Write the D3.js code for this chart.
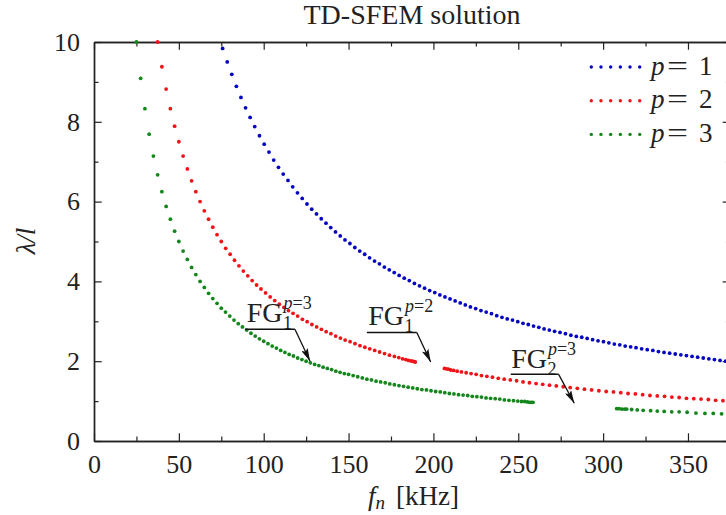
<!DOCTYPE html>
<html>
<head>
<meta charset="utf-8">
<script src="https://cdn.jsdelivr.net/npm/d3@7"></script>
<style>
body { margin: 0; background: #fff; }
svg { display: block; font-family: "Liberation Serif", "Times New Roman", Tinos, "DejaVu Serif", serif; }
</style>
</head>
<body>
<svg id="chart" width="726" height="515"></svg>
<script>
// values: f_n [kHz] and lambda/l for each marker
var blueF = [75.8, 78.5, 81.2, 83.9, 86.6, 89.3, 92.0, 94.7, 97.5, 100.3,
  103.1, 105.9, 108.7, 111.5, 114.3, 117.1, 119.9, 122.7, 125.5, 128.3,
  131.1, 133.9, 136.7, 139.5, 142.3, 145.1, 147.9, 150.8, 153.7, 156.6,
  159.5, 162.4, 165.3, 168.2, 171.1, 174.0, 176.9, 179.8, 182.8, 185.8,
  188.8, 191.8, 194.8, 197.8, 200.8, 203.8, 206.8, 209.8, 212.8, 215.8,
  218.8, 221.8, 224.9, 228.0, 231.1, 234.2, 237.3, 240.4, 243.5, 246.6,
  249.7, 252.8, 255.9, 259.0, 262.1, 265.2, 268.3, 271.4, 274.6, 277.8,
  281.0, 284.2, 287.4, 290.6, 293.8, 297.0, 300.2, 303.4, 306.6, 309.8,
  313.0, 316.2, 319.4, 322.7, 326.0, 329.3, 332.6, 335.9, 339.2, 342.5,
  345.8, 349.1, 352.4, 355.7, 359.0, 362.3, 365.6, 368.9, 372.2, 375.5];
var blueL = [9.84, 9.50, 9.19, 8.89, 8.61, 8.35, 8.11, 7.88, 7.65, 7.44,
  7.24, 7.04, 6.86, 6.69, 6.53, 6.37, 6.22, 6.08, 5.94, 5.81,
  5.69, 5.57, 5.46, 5.35, 5.24, 5.14, 5.04, 4.95, 4.85, 4.76,
  4.68, 4.59, 4.51, 4.44, 4.36, 4.29, 4.22, 4.15, 4.08, 4.02,
  3.95, 3.89, 3.83, 3.77, 3.72, 3.66, 3.61, 3.56, 3.51, 3.46,
  3.41, 3.36, 3.32, 3.27, 3.23, 3.19, 3.14, 3.10, 3.06, 3.03,
  2.99, 2.95, 2.92, 2.88, 2.85, 2.81, 2.78, 2.75, 2.72, 2.69,
  2.65, 2.62, 2.60, 2.57, 2.54, 2.51, 2.49, 2.46, 2.43, 2.41,
  2.38, 2.36, 2.34, 2.31, 2.29, 2.27, 2.24, 2.22, 2.20, 2.18,
  2.16, 2.14, 2.12, 2.10, 2.08, 2.06, 2.04, 2.02, 2.00, 1.99];

var redF1 = [37.5, 40.0, 42.5, 45.0, 47.5, 50.0, 52.5, 55.0, 57.5, 60.0,
  62.5, 65.0, 67.5, 70.0, 72.5, 75.0, 77.6, 80.2, 82.8, 85.4,
  88.0, 90.6, 93.2, 95.8, 98.4, 101.1, 103.8, 106.5, 109.2, 111.9,
  114.6, 117.3, 120.0, 122.8, 125.6, 128.4, 131.2, 134.0, 136.8, 139.6,
  142.4, 145.2, 148.0, 150.9, 153.8, 156.7, 159.6, 162.5, 165.4, 168.3,
  171.2, 174.1, 177.0, 179.6, 181.8, 183.7, 185.3, 186.6, 187.7, 188.6, 189.3];
var redL1 = [10.00, 9.38, 8.82, 8.33, 7.89, 7.50, 7.14, 6.82, 6.52, 6.25,
  6.00, 5.77, 5.56, 5.36, 5.17, 5.00, 4.83, 4.68, 4.53, 4.39,
  4.26, 4.14, 4.02, 3.91, 3.81, 3.71, 3.61, 3.52, 3.43, 3.35,
  3.27, 3.20, 3.13, 3.05, 2.99, 2.92, 2.86, 2.80, 2.74, 2.69,
  2.63, 2.58, 2.53, 2.49, 2.44, 2.39, 2.35, 2.31, 2.27, 2.23,
  2.19, 2.15, 2.12, 2.09, 2.06, 2.04, 2.02, 2.01, 2.00, 1.99, 1.98];
var redF2 = [206.5, 207.6, 208.8, 210.2, 211.9, 214.0, 216.5, 219.3, 222.2, 225.2,
  228.3, 231.5, 234.8, 238.2, 241.7, 245.3, 249.0, 252.8, 256.6, 260.5,
  264.4, 268.4, 272.4, 276.5, 280.6, 284.8, 289.0, 293.2, 297.5, 301.8,
  306.1, 310.4, 314.7, 319.0, 323.3, 327.6, 331.9, 336.2, 340.5, 344.8,
  349.1, 353.4, 357.7, 362.0, 366.3, 370.6, 374.9];
var redL2 = [1.82, 1.81, 1.80, 1.78, 1.77, 1.75, 1.73, 1.71, 1.69, 1.67,
  1.64, 1.62, 1.60, 1.57, 1.55, 1.53, 1.51, 1.48, 1.46, 1.44,
  1.42, 1.40, 1.38, 1.36, 1.34, 1.32, 1.30, 1.28, 1.26, 1.24,
  1.23, 1.21, 1.19, 1.18, 1.16, 1.14, 1.13, 1.12, 1.10, 1.09,
  1.07, 1.06, 1.05, 1.04, 1.02, 1.01, 1.00];

var greenF1 = [25.0, 27.5, 30.0, 32.5, 35.0, 37.5, 40.0, 42.5, 45.0, 47.5,
  50.0, 52.5, 55.0, 57.5, 60.0, 62.5, 65.0, 67.5, 70.0, 72.5,
  75.0, 77.5, 80.0, 82.5, 85.0, 87.5, 90.0, 92.5, 95.0, 97.5,
  100.0, 102.5, 105.0, 107.5, 110.0, 112.5, 115.0, 117.5, 120.0, 122.5,
  125.0, 127.5, 130.0, 132.5, 135.0, 137.5, 140.0, 142.5, 145.0, 147.5,
  150.0, 152.7, 155.4, 158.1, 160.8, 163.5, 166.2, 168.9, 171.6, 174.3,
  177.0, 179.7, 182.4, 185.1, 187.8, 190.5, 193.2, 195.9, 198.6, 201.3,
  204.0, 206.7, 209.4, 212.1, 214.8, 217.5, 220.2, 222.9, 225.6, 228.3,
  231.0, 233.7, 236.4, 239.1, 241.8, 244.5, 247.2, 249.7, 251.9, 253.8,
  255.4, 256.7, 257.8, 258.7];
var greenL1 = [10.00, 9.09, 8.33, 7.69, 7.14, 6.67, 6.25, 5.88, 5.56, 5.26,
  5.00, 4.76, 4.55, 4.35, 4.17, 4.00, 3.85, 3.70, 3.57, 3.45,
  3.33, 3.23, 3.13, 3.03, 2.94, 2.86, 2.78, 2.70, 2.63, 2.56,
  2.50, 2.44, 2.38, 2.33, 2.27, 2.22, 2.17, 2.13, 2.08, 2.04,
  2.00, 1.96, 1.92, 1.89, 1.85, 1.82, 1.79, 1.75, 1.72, 1.69,
  1.67, 1.64, 1.61, 1.58, 1.55, 1.53, 1.50, 1.48, 1.46, 1.43,
  1.41, 1.39, 1.37, 1.35, 1.33, 1.31, 1.29, 1.28, 1.26, 1.24,
  1.23, 1.21, 1.19, 1.18, 1.16, 1.15, 1.14, 1.12, 1.11, 1.10,
  1.08, 1.07, 1.06, 1.05, 1.03, 1.02, 1.01, 1.00, 0.99, 0.99,
  0.98, 0.97, 0.97, 0.97];
var greenF2 = [308.0, 309.5, 311.1, 312.7, 313.9, 316.8, 320.1, 323.6, 328.0, 331.9,
  336.0, 340.4, 344.8, 349.5, 354.7, 360.0, 364.9, 369.8, 375.0];
var greenL2 = [0.81, 0.81, 0.80, 0.80, 0.80, 0.79, 0.78, 0.77, 0.76, 0.75,
  0.74, 0.73, 0.73, 0.72, 0.70, 0.69, 0.69, 0.68, 0.67];

var seriesNames = ["1", "2", "3"];
var seriesColors = ["#0606c0", "#ee1418", "#14861c"];

var xMajor = [0, 50, 100, 150, 200, 250, 300, 350];
var xMinor = [25, 75, 125, 175, 225, 275, 325];
var yMajor = [0, 2, 4, 6, 8, 10];
var yMinor = [1, 3, 5, 7, 9];

// frequency gap labels: text start, baseline, leader line and arrow tip (data units)
var gapIndex = ["1", "1", "2"];
var gapP = ["3", "2", "3"];
var gapTextF = [90.0, 161.6, 245.8];
var gapTextL = [2.99, 2.91, 1.82];
var gapLineF0 = [88.9, 160.8, 245.6];
var gapLineF1 = [118.4, 190.2, 273.8];
var gapLineL = [2.80, 2.72, 1.67];
var gapTipF = [127.3, 198.4, 283.0];
var gapTipL = [2.00, 1.98, 0.945];

var serif = "'Liberation Serif', 'Times New Roman', Tinos, 'DejaVu Serif', serif";
var svg = d3.select("#chart");
var x = d3.scaleLinear().domain([0, 375]).range([94, 730.4]);
var y = d3.scaleLinear().domain([0, 10]).range([441, 42]);

var ink = "#222";

function styleAxis(g) {
  g.attr("font-family", serif).attr("font-size", 26);
  g.selectAll("path").attr("stroke", ink).attr("stroke-width", 1.4);
  g.selectAll("line").attr("stroke", ink).attr("stroke-width", 1.2);
  g.selectAll("text").attr("fill", ink);
}

// major ticks (inward) with labels
svg.append("g").attr("transform", "translate(0," + y(0) + ")")
  .call(d3.axisBottom(x).tickValues(xMajor).tickSize(-7.7).tickSizeOuter(0).tickPadding(14))
  .call(styleAxis);
svg.append("g").attr("transform", "translate(0," + y(10) + ")")
  .call(d3.axisTop(x).tickValues(xMajor).tickSize(-7.7).tickSizeOuter(0).tickFormat(""))
  .call(styleAxis);
svg.append("g").attr("transform", "translate(" + x(0) + ",0)")
  .call(d3.axisLeft(y).tickValues(yMajor).tickSize(-7.7).tickSizeOuter(0).tickPadding(14))
  .call(styleAxis);
svg.append("g").attr("transform", "translate(" + x(375) + ",0)")
  .call(d3.axisRight(y).tickValues(yMajor).tickSize(-7.7).tickSizeOuter(0).tickFormat(""))
  .call(styleAxis);

// minor ticks
svg.append("g").attr("transform", "translate(0," + y(0) + ")")
  .call(d3.axisBottom(x).tickValues(xMinor).tickSize(-4.5).tickSizeOuter(0).tickFormat(""))
  .call(styleAxis);
svg.append("g").attr("transform", "translate(0," + y(10) + ")")
  .call(d3.axisTop(x).tickValues(xMinor).tickSize(-4.5).tickSizeOuter(0).tickFormat(""))
  .call(styleAxis);
svg.append("g").attr("transform", "translate(" + x(0) + ",0)")
  .call(d3.axisLeft(y).tickValues(yMinor).tickSize(-4.5).tickSizeOuter(0).tickFormat(""))
  .call(styleAxis);
svg.append("g").attr("transform", "translate(" + x(375) + ",0)")
  .call(d3.axisRight(y).tickValues(yMinor).tickSize(-4.5).tickSizeOuter(0).tickFormat(""))
  .call(styleAxis);

// markers
var series = [
  [d3.zip(blueF, blueL)],
  [d3.zip(redF1, redL1), d3.zip(redF2, redL2)],
  [d3.zip(greenF1, greenL1), d3.zip(greenF2, greenL2)]
];
series.forEach(function(segs, i) {
  var pts = [].concat.apply([], segs);
  svg.append("g").selectAll("circle").data(pts).join("circle")
    .attr("cx", function(d) { return x(d[0]); })
    .attr("cy", function(d) { return y(d[1]); })
    .attr("r", 1.9)
    .attr("fill", seriesColors[i]);
});

// title and axis labels
svg.append("text").attr("x", 412).attr("y", 24).attr("text-anchor", "middle")
  .attr("font-family", serif).attr("font-size", 28).attr("fill", ink).text("TD-SFEM solution");

var xl = svg.append("text").attr("x", 368).attr("y", 505)
  .attr("font-family", serif).attr("font-size", 27).attr("fill", ink);
xl.append("tspan").attr("font-style", "italic").text("f");
xl.append("tspan").attr("font-style", "italic").attr("font-size", 19).attr("dy", 4).text("n");
xl.append("tspan").attr("x", 396).attr("dy", -4).text("[kHz]");

svg.append("text").attr("transform", "translate(35,241) rotate(-90)")
  .attr("text-anchor", "middle").attr("font-family", serif).attr("font-size", 27)
  .attr("font-style", "italic").attr("fill", ink).text("λ/l");

// legend
var leg = svg.append("g");
seriesNames.forEach(function(name, i) {
  var ly = 67 + 33.7 * i;
  leg.append("g").selectAll("circle").data(d3.range(6)).join("circle")
    .attr("cx", function(k) { return 591.3 + 9.68 * k; })
    .attr("cy", ly).attr("r", 1.7).attr("fill", seriesColors[i]);
  var t = leg.append("text").attr("y", ly + 7.5).attr("font-family", serif)
    .attr("font-size", 27).attr("fill", ink);
  t.append("tspan").attr("x", 651).attr("font-style", "italic").text("p");
  t.append("tspan").attr("x", 667).attr("textLength", 21).attr("lengthAdjust", "spacingAndGlyphs").text("=");
  t.append("tspan").attr("x", 699).text(name);
});

// frequency gap annotations
svg.append("defs").append("marker").attr("id", "arrow")
  .attr("viewBox", "0 0 13 7").attr("refX", 13).attr("refY", 3.5)
  .attr("markerWidth", 13).attr("markerHeight", 7)
  .attr("markerUnits", "userSpaceOnUse").attr("orient", "auto")
  .append("path").attr("d", "M0,0 L13,3.5 L0,7 L2.5,3.5 Z").attr("fill", "#111");

gapIndex.forEach(function(idx, i) {
  var g = svg.append("g").attr("fill", ink).attr("font-family", serif);
  var tx = x(gapTextF[i]), ty = y(gapTextL[i]);
  var fg = g.append("text").attr("x", tx).attr("y", ty).attr("font-size", 28).text("FG");
  var w = fg.node().getComputedTextLength();
  g.append("text").attr("x", tx + w + 0.5).attr("y", ty + 7).attr("font-size", 18).text(idx);
  var sup = g.append("text").attr("x", tx + w + 1).attr("y", ty - 13).attr("font-size", 18);
  sup.append("tspan").attr("font-style", "italic").text("p");
  sup.append("tspan").text("=" + gapP[i]);
  g.append("line")
    .attr("x1", x(gapLineF0[i])).attr("x2", x(gapLineF1[i]))
    .attr("y1", y(gapLineL[i])).attr("y2", y(gapLineL[i]))
    .attr("stroke", "#111").attr("stroke-width", 1.5);
  g.append("line")
    .attr("x1", x(gapLineF1[i])).attr("y1", y(gapLineL[i]))
    .attr("x2", x(gapTipF[i])).attr("y2", y(gapTipL[i]))
    .attr("stroke", "#111").attr("stroke-width", 1.3)
    .attr("marker-end", "url(#arrow)");
});
</script>
</body>
</html>
